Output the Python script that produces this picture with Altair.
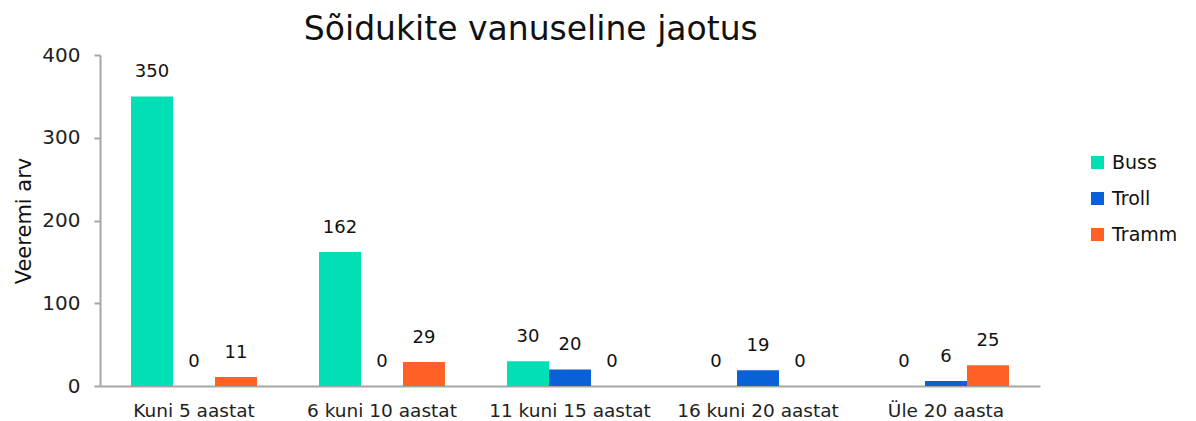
import altair as alt
import pandas as pd

categories = ["Kuni 5 aastat", "6 kuni 10 aastat", "11 kuni 15 aastat", "16 kuni 20 aastat", "Üle 20 aasta"]
series = ["Buss", "Troll", "Tramm"]
buss = [350, 162, 30, 0, 0]
troll = [0, 0, 20, 19, 6]
tramm = [11, 29, 0, 0, 25]
colors = ["#00E0B4", "#0A60D6", "#FF6124"]

rows = []
for i, c in enumerate(categories):
    for s, vals in zip(series, [buss, troll, tramm]):
        rows.append({"Kategooria": c, "Tüüp": s, "Väärtus": vals[i]})
df = pd.DataFrame(rows)

FONT = "DejaVu Sans"

x = alt.X("Kategooria:N", sort=categories, title=None,
          scale=alt.Scale(paddingInner=0.33, paddingOuter=0.165),
          axis=alt.Axis(labelAngle=0, ticks=False, labelPadding=15, labelFontSize=18.5,
                        labelColor="#222", domainColor="#A6A6A6", domainWidth=2, labelFont=FONT))
xo = alt.XOffset("Tüüp:N", sort=series)

bars = alt.Chart(df).mark_bar().encode(
    x=x, xOffset=xo,
    y=alt.Y("Väärtus:Q", scale=alt.Scale(domain=[0, 400]),
            axis=alt.Axis(values=[0, 100, 200, 300, 400], title="Veeremi arv", grid=False,
                          labelFontSize=20, labelColor="#222", labelFont=FONT, labelPadding=14,
                          titleFont=FONT, titleFontSize=21, titleFontWeight="normal", titleColor="#111",
                          titlePadding=7, tickSize=6, tickColor="#A6A6A6", tickWidth=2,
                          domainColor="#A6A6A6", domainWidth=2)),
    color=alt.Color("Tüüp:N", sort=series, scale=alt.Scale(domain=series, range=colors),
                    legend=alt.Legend(title=None, orient="none", legendX=988, legendY=98,
                                      symbolType="square", symbolSize=170, symbolStrokeWidth=0,
                                      labelFontSize=19, labelFont=FONT, labelColor="#111",
                                      rowPadding=16, labelOffset=5)),
)

text = alt.Chart(df).mark_text(baseline="bottom", dy=-15, fontSize=18, font=FONT, color="#111").encode(
    x=x, xOffset=xo,
    y=alt.Y("Väärtus:Q"),
    text=alt.Text("Väärtus:Q"),
)

chart = (bars + text).properties(
    width=940, height=331,
    title=alt.Title("Sõidukite vanuseline jaotus", font=FONT, fontSize=33, fontWeight="normal",
                    color="#111", anchor="start", dx=290, dy=8, offset=6),
    autosize=alt.AutoSizeParams(type="none"),
    padding={"left": 92, "top": 47, "right": 148, "bottom": 35},
).configure_view(stroke=None)

chart.save("out.html", embed_options={"renderer": "svg", "actions": False})
